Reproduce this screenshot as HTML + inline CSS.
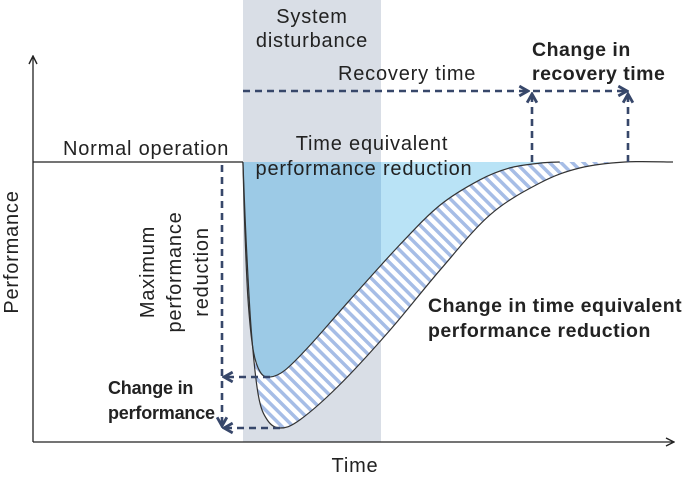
<!DOCTYPE html>
<html><head><meta charset="utf-8"><style>
html,body{margin:0;padding:0;background:#fff}
svg{display:block;font-family:"Liberation Sans",sans-serif}
</style></head><body>
<svg id="c" width="685" height="477" viewBox="0 0 685 477">
<defs>
<pattern id="hatch" width="8" height="8" patternUnits="userSpaceOnUse" patternTransform="rotate(-45)">
<rect width="8" height="8" fill="#fff"/><rect width="3.5" height="8" fill="#a6bde6"/></pattern>
<marker id="ah" viewBox="0 0 12 12" refX="10" refY="6" markerWidth="13" markerHeight="13" orient="auto" markerUnits="userSpaceOnUse">
<path d="M2,1.5 L10,6 L2,10.5" fill="none" stroke="#37476a" stroke-width="2.6" stroke-dasharray="none"/></marker>
<marker id="ax" viewBox="0 0 10 10" refX="9" refY="5" markerWidth="10" markerHeight="10" orient="auto" markerUnits="userSpaceOnUse">
<path d="M1,1 L9,5 L1,9" fill="none" stroke="#222" stroke-width="1.4"/></marker>
<clipPath id="band"><rect x="243" y="0" width="138" height="442"/></clipPath>
</defs>
<rect x="243" y="0" width="138" height="442" fill="#d9dee6"/>
<g id="marks"></g>
<line x1="33" y1="442" x2="33" y2="56" stroke="#222" stroke-width="1.3" marker-end="url(#ax)"/>
<line x1="33" y1="442" x2="674" y2="442" stroke="#222" stroke-width="1.3" marker-end="url(#ax)"/>
<line x1="33" y1="162" x2="243" y2="162" stroke="#222" stroke-width="1.3"/>
<g stroke="#37476a" stroke-width="2.6" stroke-dasharray="7 5" fill="none">
<line x1="243" y1="91" x2="528" y2="91" marker-end="url(#ah)"/>
<line x1="533" y1="91" x2="627" y2="91" marker-end="url(#ah)"/>
<line x1="532" y1="162" x2="532" y2="94" marker-end="url(#ah)"/>
<line x1="628" y1="162" x2="628" y2="94" marker-end="url(#ah)"/>
<line x1="222" y1="165" x2="222" y2="426" marker-end="url(#ah)"/>
<line x1="270" y1="377" x2="224" y2="377" marker-end="url(#ah)"/>
<line x1="280" y1="428" x2="224" y2="428" marker-end="url(#ah)"/>
</g>
<g font-size="20" letter-spacing="0.8" fill="#222">
<text x="312" y="23" text-anchor="middle"><tspan x="312">System</tspan><tspan x="312" dy="24">disturbance</tspan></text>
<text x="338" y="80">Recovery time</text>
<text x="63" y="155">Normal operation</text>
<text x="372" y="150" text-anchor="middle"><tspan x="372">Time equivalent</tspan><tspan x="364" dy="25">performance reduction</tspan></text>
<text transform="translate(154,272) rotate(-90)" text-anchor="middle"><tspan x="0">Maximum</tspan><tspan x="0" dy="27">performance</tspan><tspan x="0" dy="27">reduction</tspan></text>
<text transform="translate(18,252) rotate(-90)" text-anchor="middle">Performance</text>
<text x="355" y="472" text-anchor="middle">Time</text>
</g>
<g font-size="19.5" font-weight="bold" letter-spacing="0.5" fill="#222">
<text x="532" y="56"><tspan x="532">Change in</tspan><tspan x="532" dy="24">recovery time</tspan></text>
<text x="428" y="312"><tspan x="428">Change in time equivalent</tspan><tspan x="428" dy="25">performance reduction</tspan></text>
<text x="108" y="394" font-size="18" letter-spacing="-0.2"><tspan x="108">Change in</tspan><tspan x="108" dy="25">performance</tspan></text>
</g>
</svg>
<script>
const baseT = [32.8,33.1,33.6,34.4,35.5,37.0,39.4,43.3,49.5,57.3,63.6,69.8,74.5,79.2,82.3];
const baseP = [100,75.7,50.7,32.9,25,23.2,25.7,34.6,50.7,70.4,84.6,93.6,97.9,99.6,100];
const changedT = [32.8,33.3,34.1,35.2,36.6,38.6,41.7,47.9,55.8,63.6,71.4,79.2,85.5,92.5,100];
const changedP = [100,72.1,40,16.8,7.9,5,7.9,20.4,40,61.4,81.1,92.5,97.9,100,100];
const xs = t => 33 + t * 6.4;
const ys = p => 442 - p * 2.8;
function spline(T, P, move) {
  const pts = T.map((t, i) => [xs(t), ys(P[i])]);
  let d = (move ? 'M' : 'L') + pts[0][0] + ',' + pts[0][1];
  for (let i = 0; i < pts.length - 1; i++) {
    const p0 = pts[Math.max(0, i - 1)], p1 = pts[i], p2 = pts[i + 1], p3 = pts[Math.min(pts.length - 1, i + 2)];
    const c1 = [p1[0] + (p2[0] - p0[0]) / 6, p1[1] + (p2[1] - p0[1]) / 6];
    const c2 = [p2[0] - (p3[0] - p1[0]) / 6, p2[1] - (p3[1] - p1[1]) / 6];
    d += ` C${c1[0]},${c1[1]} ${c2[0]},${c2[1]} ${p2[0]},${p2[1]}`;
  }
  return d;
}
const NS = 'http://www.w3.org/2000/svg';
const g = document.getElementById('marks');
function mk(d, attrs) { const e = document.createElementNS(NS, 'path'); e.setAttribute('d', d); for (const k in attrs) e.setAttribute(k, attrs[k]); g.appendChild(e); return e; }
const c1 = spline(baseT, baseP, true);
const c2 = spline(changedT, changedP, true);
const rT = baseT.slice().reverse(), rP = baseP.slice().reverse();
const hatchD = c2 + ' ' + spline(rT, rP, false) + ' Z';
const fillD = c1 + ` L${xs(baseT[baseT.length-1])},${ys(100)} Z`;
const h = mk(hatchD, {fill: 'url(#hatch)'});


const f = mk(fillD, {fill: '#b9e3f6'});


const fb = mk(fillD, {fill: '#9ccae6', 'clip-path': 'url(#band)'});


const l1 = mk(c1, {fill: 'none', stroke: '#333', 'stroke-width': '1.2'});


const l2 = mk(c2, {fill: 'none', stroke: '#333', 'stroke-width': '1.2'});


</script>
</body></html>
